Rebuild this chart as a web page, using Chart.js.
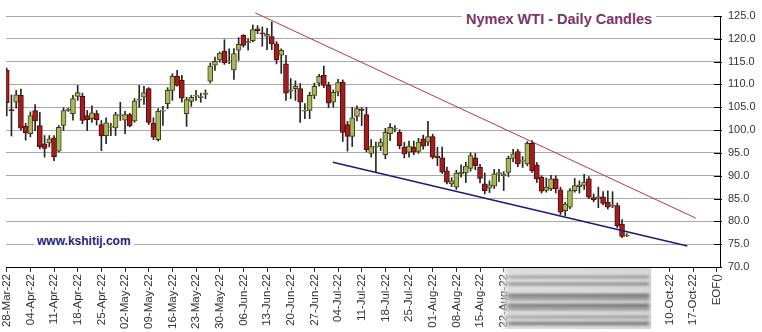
<!DOCTYPE html>
<html>
<head>
<meta charset="utf-8">
<script src="https://cdn.jsdelivr.net/npm/chart.js@4.4.1/dist/chart.umd.min.js"></script>
<style>
  html, body { margin: 0; padding: 0; background: #fff; }
  #wrap { position: relative; width: 762px; height: 332px; }
  #title {
    position: absolute; left: 462px; top: 9px; padding: 3px 4px 3px 4px;
    background: #fff; color: #7d3468; white-space: nowrap;
    font: bold 14.5px/14.5px "Liberation Sans", Arial, sans-serif;
  }
  #site {
    position: absolute; left: 34px; top: 232px; padding: 3px 3px;
    background: #fff; color: #1c1c7c; white-space: nowrap;
    font: bold 12px/12px "Liberation Sans", Arial, sans-serif;
  }
</style>
</head>
<body>
<div id="wrap">
  <canvas id="wtiChart" width="762" height="332"></canvas>
  <div id="title">Nymex WTI - Daily Candles</div>
  <div id="site">www.kshitij.com</div>
</div>
<script>
// one candle per weekday, index 0 = 28-Mar-22
const opens = [
  113.1, 104.5, 106.1, 107.6, 100.8, 99.2, 104.3, 101.0, 97.0, 97.2,
  98.3, 95.4, 101.0, 104.4, 103.6, 107.4, 107.4, 103.2, 102.5, 103.6,
  101.2, 98.8, 100.7, 100.5, 103.2, 102.2, 103.4, 102.0, 106.6, 107.2,
  109.1, 101.5, 97.9, 104.2, 105.8, 108.7, 111.8, 110.9, 103.6, 106.3,
  107.5, 107.2, 107.9, 110.7, 114.2, 115.4, 117.3, 115.0, 113.2, 117.5,
  120.8, 119.2, 119.6, 122.2, 121.3, 120.5, 120.5, 118.9, 116.4, 114.5,
  108.6, 109.1, 109.1, 104.2, 104.3, 107.6, 110.3, 112.0, 109.8, 106.1,
  108.3, 110.5, 101.2, 98.6, 103.0, 104.6, 103.4, 94.9, 96.3, 96.4,
  94.6, 99.2, 100.2, 99.5, 96.25, 95.15, 96.25, 95.3, 98.1, 97.35,
  98.6, 94.3, 93.9, 91.1, 88.2, 87.5, 90.4, 90.6, 91.6, 93.9,
  91.85, 88.2, 87.25, 87.7, 90.5, 90.0, 90.75, 93.8, 95.3, 93.2,
  92.6, 97.1, 92.4, 89.7, 86.8, 87.1, 89.3, 86.9, 82.35, 83.1,
  86.75, 87.6, 87.85, 89.3, 85.2, 84.9, 85.4, 84.2, 83.35, 83.45,
  79.4, 76.8
];
const highs = [
  113.6, 107.7, 108.7, 109.0, 101.5, 104.0, 105.6, 103.9, 98.8, 98.8,
  98.8, 101.0, 104.9, 104.8, 107.6, 109.8, 108.1, 104.3, 105.3, 104.3,
  102.1, 102.7, 101.5, 103.9, 106.1, 104.1, 103.7, 106.9, 109.8, 109.6,
  109.3, 102.7, 104.7, 105.2, 109.3, 112.35, 113.1, 112.0, 107.2, 107.6,
  108.7, 108.1, 108.8, 114.7, 116.0, 117.1, 119.8, 117.8, 117.84, 120.25,
  120.9, 120.0, 123.0, 122.9, 122.6, 122.3, 123.7, 119.4, 117.8, 116.4,
  111.3, 110.8, 110.2, 105.8, 108.3, 110.3, 112.2, 114.0, 110.5, 108.8,
  111.1, 111.0, 101.9, 105.0, 105.3, 104.9, 105.0, 97.9, 97.35, 98.1,
  100.4, 101.45, 101.0, 100.1, 97.3, 97.6, 97.6, 98.2, 98.9, 101.9,
  99.1, 96.25, 96.25, 91.9, 89.6, 91.2, 92.4, 93.0, 95.0, 94.9,
  92.5, 90.6, 88.9, 91.4, 91.4, 90.9, 94.3, 95.8, 95.8, 94.2,
  97.5, 97.7, 92.9, 90.0, 89.5, 90.1, 90.0, 87.5, 84.2, 87.2,
  89.4, 88.9, 90.3, 89.8, 86.0, 87.5, 86.5, 86.7, 86.5, 84.0,
  80.4, 77.3
];
const lows = [
  103.1, 98.7, 104.8, 100.0, 97.8, 98.5, 99.9, 95.9, 94.1, 96.3,
  93.3, 95.2, 99.9, 104.1, 102.2, 106.5, 101.4, 99.9, 101.7, 101.1,
  95.5, 97.0, 98.8, 98.8, 102.1, 99.2, 100.7, 101.7, 105.0, 105.6,
  101.2, 97.9, 97.6, 101.0, 104.7, 106.5, 109.6, 106.1, 100.8, 105.2,
  106.5, 106.1, 106.9, 110.3, 113.1, 114.9, 114.4, 114.55, 111.1, 115.27,
  118.2, 117.5, 119.3, 121.1, 118.35, 117.6, 117.6, 114.5, 112.4, 106.5,
  106.9, 106.5, 101.7, 102.5, 102.5, 106.9, 109.6, 109.3, 104.9, 105.0,
  107.5, 97.5, 95.4, 96.4, 102.0, 101.0, 95.2, 94.05, 90.9, 95.5,
  93.7, 97.7, 99.6, 95.9, 93.9, 94.05, 94.6, 94.9, 95.8, 96.6,
  93.7, 92.2, 90.5, 88.2, 87.6, 87.0, 89.7, 88.5, 91.0, 91.3,
  88.4, 86.0, 86.3, 87.2, 88.7, 86.75, 89.8, 93.0, 92.0, 91.8,
  92.2, 90.7, 88.5, 86.2, 86.4, 86.7, 86.2, 81.5, 81.2, 82.8,
  86.4, 86.2, 87.0, 85.0, 84.3, 83.0, 83.6, 82.7, 83.0, 78.6,
  76.4, 76.7
];
const closes = [
  106.0, 104.3, 107.7, 100.4, 99.4, 103.2, 102.0, 96.3, 96.0, 98.1,
  94.2, 100.6, 104.3, 104.5, 106.9, 108.2, 102.1, 102.3, 103.8, 102.3,
  98.7, 101.6, 100.8, 103.4, 103.3, 103.4, 100.9, 106.35, 106.7, 108.2,
  101.7, 98.45, 104.1, 104.3, 108.7, 111.8, 109.8, 107.0, 106.7, 107.2,
  107.6, 107.3, 108.0, 114.0, 115.06, 116.9, 114.7, 115.1, 116.74, 118.8,
  118.57, 119.3, 122.0, 121.8, 121.1, 121.0, 118.9, 115.4, 117.5, 108.1,
  108.75, 109.6, 106.1, 104.3, 107.6, 109.6, 111.8, 109.8, 105.9, 108.3,
  110.4, 99.5, 98.6, 102.7, 104.7, 104.3, 95.7, 96.4, 96.5, 97.4,
  99.5, 100.6, 100.4, 96.6, 94.8, 96.5, 95.15, 97.35, 96.5, 98.6,
  94.05, 93.95, 90.8, 88.6, 88.9, 90.6, 90.8, 92.1, 94.4, 92.2,
  89.4, 86.75, 88.0, 90.4, 90.65, 90.4, 93.8, 94.8, 92.6, 93.4,
  97.1, 91.1, 89.3, 86.6, 87.5, 89.3, 87.1, 82.0, 83.8, 86.75,
  87.85, 88.0, 88.6, 85.3, 84.7, 85.4, 83.95, 83.1, 83.5, 79.05,
  76.7, 77.0
];

// Monday labels, one every 5 weekday slots
const weekLabels = [
  '28-Mar-22', '04-Apr-22', '11-Apr-22', '18-Apr-22', '25-Apr-22',
  '02-May-22', '09-May-22', '16-May-22', '23-May-22', '30-May-22',
  '06-Jun-22', '13-Jun-22', '20-Jun-22', '27-Jun-22', '04-Jul-22',
  '11-Jul-22', '18-Jul-22', '25-Jul-22', '01-Aug-22', '08-Aug-22',
  '15-Aug-22', '22-Aug-22', '29-Aug-22', '05-Sep-22', '12-Sep-22',
  '19-Sep-22', '26-Sep-22', '03-Oct-22', '10-Oct-22', '17-Oct-22',
  'EOF()'
];
const priceTicks = [70, 72.5, 75, 77.5, 80, 82.5, 85, 87.5, 90, 92.5, 95, 97.5,
  100, 102.5, 105, 107.5, 110, 112.5, 115, 117.5, 120, 122.5, 125];

// trend lines (slot index, price)
const upperTrendX = [52.5, 145.6];
const upperTrendY = [125.7, 80.7];
const lowerTrendX = [68.9, 143.8];
const lowerTrendY = [92.95, 74.6];

const UP = '#a9b65c', DOWN = '#a21e1e';
const FONT = "'Liberation Sans', Arial, sans-serif";

const bodies = opens.map((o, i) => {
  let lo = Math.min(o, closes[i]), hi = Math.max(o, closes[i]);
  if (hi - lo < 0.25) { const m = (hi + lo) / 2; lo = m - 0.12; hi = m + 0.12; }
  return { x: i, y: [lo, hi] };
});
const wicks = highs.map((h, i) => ({ x: i, y: [lows[i], h] }));
const bodyFill = opens.map((o, i) => closes[i] >= o ? UP : DOWN);
const bodyEdge = opens.map((o, i) => closes[i] >= o ? '#3d4216' : '#4e0c0c');

// small black ticks crossing the price axis
const axisStubs = {
  id: 'axisStubs',
  afterDraw(chart) {
    const { ctx, chartArea, scales: { y } } = chart;
    ctx.save();
    ctx.strokeStyle = '#000';
    ctx.lineWidth = 1;
    ctx.beginPath();
    y.ticks.forEach(t => {
      const py = Math.round(y.getPixelForValue(t.value)) + 0.5;
      ctx.moveTo(chartArea.right - 6, py);
      ctx.lineTo(chartArea.right + 2, py);
    });
    ctx.stroke();
    ctx.restore();
  }
};

// smudged block over part of the date labels
const smudge = {
  id: 'smudge',
  afterDraw(chart) {
    const { ctx, chartArea, scales: { x } } = chart;
    const x0 = x.getPixelForValue(105) - 2, x1 = x.getPixelForValue(135) + 5.5;
    const y0 = chartArea.bottom + 1, y1 = chartArea.bottom + 62;
    ctx.save();
    const g = ctx.createLinearGradient(x0, 0, x1, 0);
    g.addColorStop(0, 'rgba(222,222,222,0.2)');
    g.addColorStop(7 / (x1 - x0), 'rgba(222,222,222,1)');
    g.addColorStop(1, 'rgba(214,214,214,1)');
    ctx.fillStyle = g;
    ctx.fillRect(x0, y0, x1 - x0, y1 - y0);
    ctx.filter = 'blur(1.5px)';
    const bands = [[8, 2, 0.55], [15, 2, 0.7], [26, 3, 0.75], [30, 2, 0.6],
      [36, 3, 0.75], [40, 2, 0.6], [48, 2, 0.55], [54, 3, 0.7]];
    bands.forEach(([dy, h, a]) => {
      const bg = ctx.createLinearGradient(x0, 0, x1, 0);
      bg.addColorStop(0, 'rgba(70,70,70,0)');
      bg.addColorStop(10 / (x1 - x0), 'rgba(70,70,70,' + a + ')');
      bg.addColorStop(1, 'rgba(60,60,60,' + a + ')');
      ctx.fillStyle = bg;
      ctx.fillRect(x0, y0 + dy, x1 - x0 - 2, h);
    });
    ctx.restore();
  }
};

new Chart(document.getElementById('wtiChart').getContext('2d'), {
  type: 'bar',
  data: {
    datasets: [
      {
        type: 'line',
        data: upperTrendX.map((v, k) => ({ x: v, y: upperTrendY[k] })),
        borderColor: '#b33b3b',
        borderWidth: 1,
        pointRadius: 0,
        clip: false,
        order: 0
      },
      {
        type: 'line',
        data: lowerTrendX.map((v, k) => ({ x: v, y: lowerTrendY[k] })),
        borderColor: '#1c1c78',
        borderWidth: 1.5,
        pointRadius: 0,
        clip: false,
        order: 1
      },
      {
        data: bodies,
        backgroundColor: bodyFill,
        borderColor: bodyEdge,
        borderWidth: 1,
        borderSkipped: false,
        barThickness: 5,
        grouped: false,
        order: 2
      },
      {
        data: wicks,
        backgroundColor: '#262626',
        barThickness: 1,
        grouped: false,
        order: 3
      }
    ]
  },
  options: {
    responsive: false,
    animation: false,
    layout: { padding: { left: 6, top: 16, right: 0, bottom: 0 } },
    plugins: { legend: { display: false }, tooltip: { enabled: false } },
    scales: {
      x: {
        type: 'linear',
        min: -0.15,
        max: 150.7,
        offset: false,
        grid: { offset: false, drawOnChartArea: false, color: '#333', tickLength: 5 },
        border: { color: '#000' },
        afterBuildTicks: s => { s.ticks = weekLabels.map((_, k) => ({ value: k * 5 })); },
        afterFit: s => { s.height = 65; },
        ticks: {
          autoSkip: false,
          minRotation: 90,
          maxRotation: 90,
          padding: 2,
          color: '#333',
          font: { family: FONT, size: 11.5 },
          callback: v => weekLabels[Math.round(v / 5)]
        }
      },
      y: {
        position: 'right',
        min: 70,
        max: 125,
        grid: { color: '#a9a9a9', drawTicks: false },
        border: { color: '#000' },
        afterBuildTicks: s => { s.ticks = priceTicks.map(v => ({ value: v })); },
        afterFit: s => { s.width = 42; },
        ticks: {
          padding: 8,
          color: '#333',
          font: { family: FONT, size: 11 },
          callback: v => v.toFixed(1)
        }
      }
    }
  },
  plugins: [axisStubs, smudge]
});
</script>
</body>
</html>
